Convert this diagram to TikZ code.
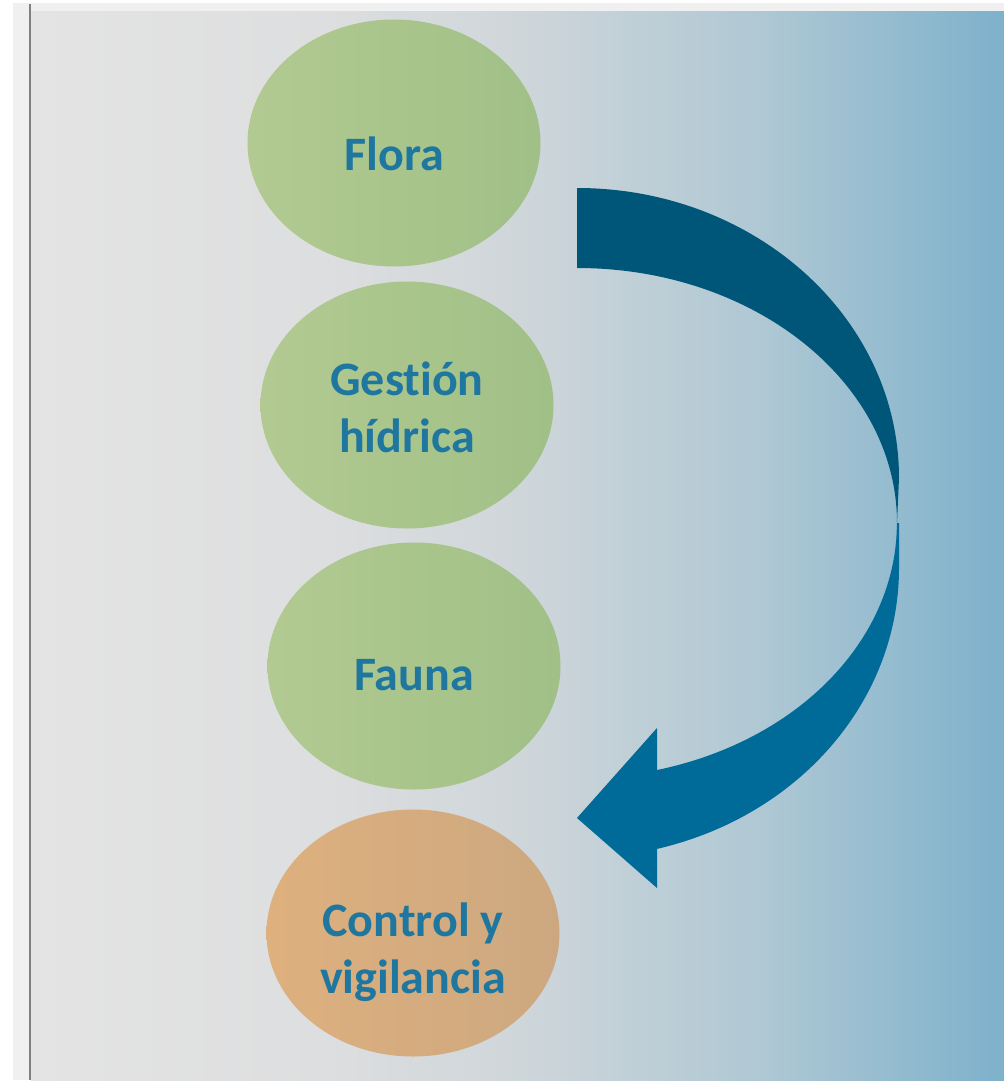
\documentclass[tikz,border=0pt]{standalone}
\usepackage{fontspec}
\setmainfont{Carlito}[Ligatures=NoCommon]
\usepackage{tikz}
\usepackage{xcolor}
\usetikzlibrary{shapes.geometric}
\definecolor{label-blue}{RGB}{31,119,160}
\definecolor{arrow-dark}{RGB}{0,86,120}
\definecolor{arrow-light}{RGB}{0,106,152}
\definecolor{green-left}{RGB}{178,202,145}
\definecolor{green-right}{RGB}{160,192,135}
\definecolor{orange-left}{RGB}{222,176,126}
\definecolor{orange-right}{RGB}{204,168,128}
\definecolor{back-1}{RGB}{228,228,228}
\definecolor{back-2}{RGB}{221,222,223}
\definecolor{back-3}{RGB}{207,214,218}
\definecolor{back-4}{RGB}{175,200,212}
\definecolor{back-5}{RGB}{126,177,203}
\pgfdeclarehorizontalshading{backdrop}{100bp}{color(0bp)=(back-1); color(25bp)=(back-1); color(40bp)=(back-2); color(50bp)=(back-3); color(62.5bp)=(back-4); color(75bp)=(back-5); color(100bp)=(back-5)}
\tikzset{
    topic-ellipse/.style = {ellipse, minimum width=293pt, minimum height=247pt, inner sep=0pt},
    green-ellipse/.style = {topic-ellipse, left color=green-left, right color=green-right},
    orange-ellipse/.style = {topic-ellipse, left color=orange-left, right color=orange-right},
    topic-text/.style = {text=label-blue, align=center, inner sep=0pt, font=\bfseries\fontsize{48}{57}\selectfont},
}

\begin{document}
\begin{tikzpicture}[x=1pt, y=-1pt]
\useasboundingbox (0,0) rectangle (1004,1082);
% frame and background
\fill[white] (0,0) rectangle (1004,1082);
\fill[black!6] (13,3) rectangle (1004,1080);
\shade[shading=backdrop] (31,11) rectangle (1004,1080);
\draw[black!50, line width=2.5pt] (30,4) -- (30,1080);

% topics
\node [green-ellipse] (flora-shape) at (394,143) {};
\node [green-ellipse] (gestion-shape) at (407,405) {};
\node [green-ellipse] (fauna-shape) at (414,666) {};
\node [orange-ellipse] (control-shape) at (413,933) {};
\node [topic-text] (flora) at ([yshift=-11pt]flora-shape.center) {Flora};
\node [topic-text] (gestion) at ([yshift=-2pt]gestion-shape.center) {Gestión\\hídrica};
\node [topic-text] (fauna) at ([yshift=-9pt]fauna-shape.center) {Fauna};
\node [topic-text] (control) at ([yshift=-19pt]control-shape.center) {Control y\\vigilancia};

% curved arrow
\coordinate (arrow-start) at (577,188);
\coordinate (arrow-turn) at (897,523);
\coordinate (arrow-tip) at (577,818);
\fill[arrow-light] (arrow-turn) -- (899,523) -- (899,568)
    arc[start angle=0, end angle=75.6, x radius=322, y radius=290]
    -- (657,888) -- (arrow-tip) -- (657,728) -- (657,770)
    arc[start angle=75.5, end angle=0, x radius=320, y radius=255] -- cycle;
\fill[arrow-dark] (arrow-start)
    arc[start angle=-90, end angle=0, x radius=322, y radius=290]
    -- (arrow-turn)
    arc[start angle=0, end angle=-90, x radius=320, y radius=255] -- cycle;
\end{tikzpicture}
\end{document}
